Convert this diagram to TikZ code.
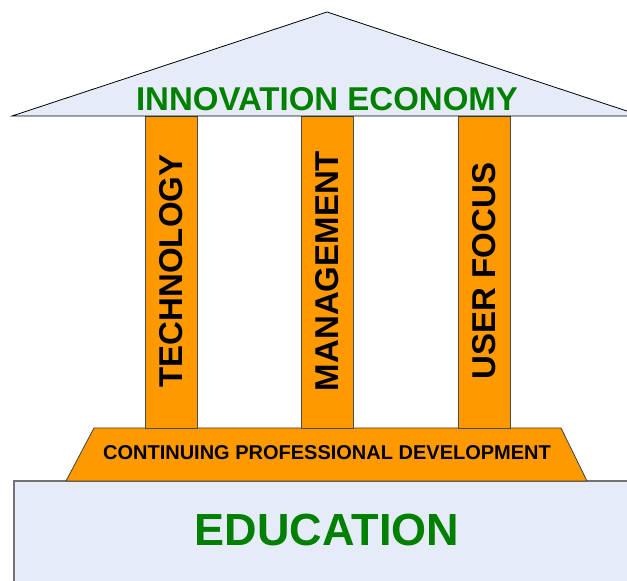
\documentclass[tikz,border=0pt]{standalone}
\usepackage{fontspec}
\setmainfont{Liberation Sans}
\definecolor{roofblue}{HTML}{E6ECF7}
\definecolor{pillarorange}{HTML}{FF9900}
\definecolor{textgreen}{HTML}{008000}
\tikzset{
    pillar/.style={draw=black!70,fill=pillarorange,line width=0.8pt},
    pillartext/.style={rotate=90,font=\fontsize{33}{33}\selectfont\bfseries}
}
\begin{document}
\begin{tikzpicture}[x=1pt,y=1pt]
    \useasboundingbox (0,0) rectangle (627,581);
    \clip (0,0) rectangle (627,581);

    % base
    \begin{scope}
        \draw[black!55,fill=roofblue,line width=1.2pt] (14,-10) rectangle (640,100);
        \node (education) at (327,51) {\fontsize{45}{45}\selectfont\bfseries\color{textgreen} EDUCATION};
    \end{scope}

    % step
    \begin{scope}
        \draw[black!75,fill=pillarorange,line width=0.8pt] (66,100) -- (587,100) -- (561,153) -- (94,153) -- cycle;
        \node (cpd) at (327,128) {\fontsize{20}{20}\selectfont\bfseries CONTINUING PROFESSIONAL DEVELOPMENT};
    \end{scope}

    % pillars
    \begin{scope}
        \draw[pillar] (145,153) rectangle (197,465);
        \draw[pillar] (301,153) rectangle (353,465);
        \draw[pillar] (458,153) rectangle (510,465);
        \node[pillartext] (technology) at (171,310) {TECHNOLOGY};
        \node[pillartext] (management) at (327,310) {MANAGEMENT};
        \node[pillartext] (userfocus) at (484,310) {USER FOCUS};
    \end{scope}

    % roof
    \begin{scope}
        \draw[black,fill=roofblue,line width=0.8pt] (12,465) -- (327,569) -- (642,465) -- cycle;
        \node (economy) at (327,482) {\fontsize{33}{33}\selectfont\bfseries\color{textgreen} INNOVATION ECONOMY};
    \end{scope}
\end{tikzpicture}
\end{document}
